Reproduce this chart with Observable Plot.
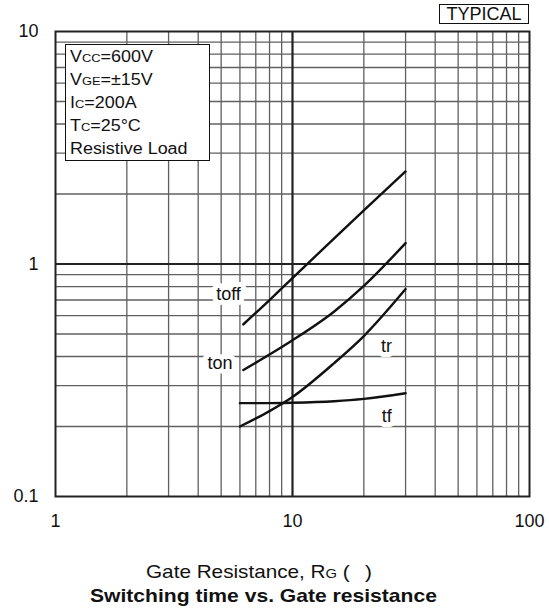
<!DOCTYPE html>
<html><head><meta charset="utf-8">
<script src="https://cdn.jsdelivr.net/npm/d3@7"></script>
<script src="https://cdn.jsdelivr.net/npm/@observablehq/plot@0.6"></script>
<style>
body{margin:0;background:#fff;font-family:"Liberation Sans",Arial,Helvetica,sans-serif;color:#111;}
#wrap{position:relative;width:549px;height:614px;overflow:hidden;}
#chart svg{display:block;}
.ov{position:absolute;white-space:nowrap;}
.wide{display:inline-block;transform-origin:0 50%;}
#typical{left:439px;top:4px;width:88px;height:18px;border:1.3px solid #111;font-size:18px;line-height:18px;text-align:center;background:#fff;}
#cond{left:65px;top:44px;width:139px;height:115px;border:1.5px solid #111;background:#fff;font-size:16px;line-height:23px;padding:0 0 0 4px;}
#cond .wide{transform:scaleX(1.12);}
.sc{font-size:11.5px;line-height:1;}
#xlabel{left:146px;top:562px;font-size:19px;line-height:19px;}
#xlabel .wide{transform:scaleX(1.09);}
#title{left:90px;top:587px;font-size:18.5px;line-height:18.5px;font-weight:bold;}
#title .wide{transform:scaleX(1.14);}
.gap{display:inline-block;width:14px;}
</style></head><body>
<div id="wrap">
<div id="chart"></div>
<div class="ov" id="typical">TYPICAL</div>
<div class="ov" id="cond">
<div><span class="wide">V<span class="sc">CC</span>=600V</span></div>
<div><span class="wide">V<span class="sc">GE</span>=±15V</span></div>
<div><span class="wide">I<span class="sc">C</span>=200A</span></div>
<div><span class="wide">T<span class="sc">C</span>=25°C</span></div>
<div><span class="wide">Resistive Load</span></div>
</div>
<div class="ov" id="xlabel"><span class="wide">Gate Resistance, R<span class="sc" style="font-size:13.5px">G</span> (<span class="gap"></span>)</span></div>
<div class="ov" id="title"><span class="wide">Switching time vs. Gate resistance</span></div>
</div>
<script>
// Gate resistance (ohm) sample points and switching times (µs)
const rgOff = [6.2, 8, 10, 15, 20, 30];
const toff  = [0.55, 0.70, 0.87, 1.29, 1.70, 2.50];
const rgOn  = [6.2, 8, 10, 15, 20, 30];
const ton   = [0.35, 0.408, 0.47, 0.625, 0.805, 1.23];
const rgR   = [6.0, 8, 10, 15, 20, 30];
const tr    = [0.20, 0.233, 0.268, 0.375, 0.49, 0.78];
const rgF   = [6.0, 8, 10, 15, 20, 30];
const tf    = [0.252, 0.252, 0.253, 0.257, 0.263, 0.278];

const curveNames  = ["toff", "ton", "tr", "tf"];
const labelRg     = [5.37, 4.94, 24.9, 25.0];
const labelT      = [0.74, 0.374, 0.445, 0.221];

const xTicks = [1, 10, 100];
const yTicks = [0.1, 1, 10];
const xGrid = [2,3,4,5,6,7,8,9,20,30,40,50,60,70,80,90];
const yGrid = [0.2,0.3,0.4,0.5,0.6,0.7,0.8,0.9,2,3,4,5,6,7,8,9];

const series = [[rgOff, toff], [rgOn, ton], [rgR, tr], [rgF, tf]];
const data = series.flatMap(([xs, ys], i) => xs.map((x, j) => ({series: curveNames[i], rg: x, t: ys[j]})));
const labels = curveNames.map((n, i) => ({name: n, rg: labelRg[i], t: labelT[i]}));

const chart = Plot.plot({
  width: 549, height: 540,
  marginLeft: 55, marginRight: 20, marginTop: 31, marginBottom: 44,
  style: {fontFamily: '"Liberation Sans", Arial, sans-serif', fontSize: "18px", color: "#111", background: "#fff"},
  x: {type: "log", domain: [1, 100]},
  y: {type: "log", domain: [0.1, 10]},
  marks: [
    Plot.ruleX(xGrid, {stroke: "#606060", strokeWidth: 1.3}),
    Plot.ruleY(yGrid, {stroke: "#606060", strokeWidth: 1.3}),
    Plot.ruleX([10], {stroke: "#222", strokeWidth: 2.2}),
    Plot.ruleY([1], {stroke: "#222", strokeWidth: 2.2}),
    Plot.frame({stroke: "#222", strokeWidth: 2}),
    Plot.text(labels, {x: "rg", y: "t", text: "name", fill: "#111", stroke: "white", strokeWidth: 10, fontSize: 18}),
    Plot.line(data, {x: "rg", y: "t", z: "series", curve: "monotone-x", stroke: "#111", strokeWidth: 2.4}),
    Plot.axisX({ticks: xTicks, tickSize: 0, tickPadding: 18, label: null, tickFormat: d => String(d), fontSize: 18}),
    Plot.axisY({ticks: yTicks, tickSize: 0, tickPadding: 17, label: null, tickFormat: d => String(d), fontSize: 18})
  ]
});
document.getElementById("chart").appendChild(chart);
</script>
</body></html>
